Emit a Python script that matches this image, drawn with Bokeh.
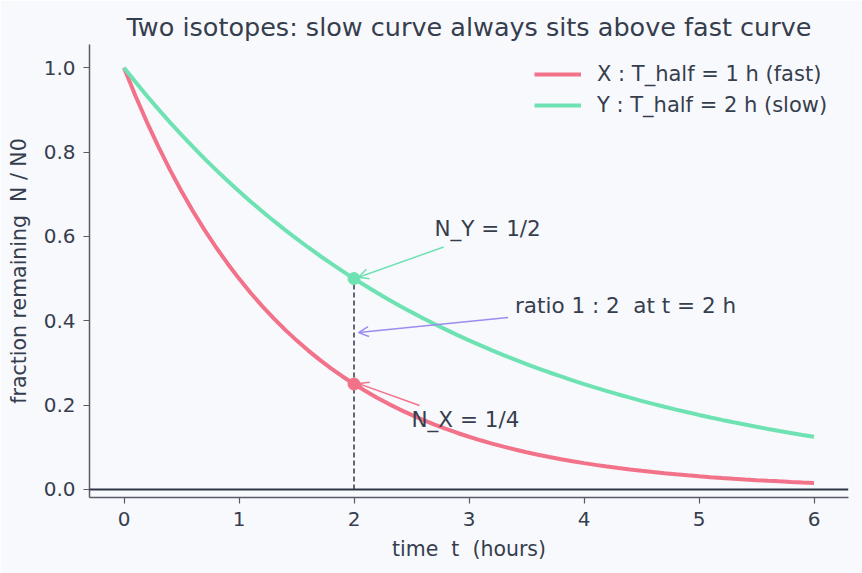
from bokeh.plotting import figure
from bokeh.models import (Range1d, FixedTicker, Span, Arrow, OpenHead, Label,
                          Legend, LegendItem, PrintfTickFormatter, ColumnDataSource)
from bokeh.embed import file_html
from bokeh.resources import INLINE

# ---- data ----
t_hours = [round(0.1 * i, 1) for i in range(61)]
frac_x_fast = [1.0, 0.93303, 0.87055, 0.81225, 0.75786, 0.70711, 0.65975, 0.61557, 0.57435, 0.53589,
               0.5, 0.46652, 0.43528, 0.40613, 0.37893, 0.35355, 0.32988, 0.30779, 0.28718, 0.26795,
               0.25, 0.23326, 0.21764, 0.20306, 0.18946, 0.17678, 0.16494, 0.15389, 0.14359, 0.13397,
               0.125, 0.11663, 0.10882, 0.10153, 0.09473, 0.08839, 0.08247, 0.07695, 0.07179, 0.06699,
               0.0625, 0.05831, 0.05441, 0.05077, 0.04737, 0.04419, 0.04123, 0.03847, 0.0359, 0.03349,
               0.03125, 0.02916, 0.0272, 0.02538, 0.02368, 0.0221, 0.02062, 0.01924, 0.01795, 0.01675,
               0.01563]
frac_y_slow = [1.0, 0.96594, 0.93303, 0.90125, 0.87055, 0.8409, 0.81225, 0.78458, 0.75786, 0.73204,
               0.70711, 0.68302, 0.65975, 0.63728, 0.61557, 0.5946, 0.57435, 0.55478, 0.53589, 0.51764,
               0.5, 0.48297, 0.46652, 0.45062, 0.43528, 0.42045, 0.40613, 0.39229, 0.37893, 0.36602,
               0.35355, 0.34151, 0.32988, 0.31864, 0.30779, 0.2973, 0.28718, 0.27739, 0.26795, 0.25882,
               0.25, 0.24148, 0.23326, 0.22531, 0.21764, 0.21022, 0.20306, 0.19615, 0.18946, 0.18301,
               0.17678, 0.17075, 0.16494, 0.15932, 0.15389, 0.14865, 0.14359, 0.1387, 0.13397, 0.12941,
               0.125]
marker_t = [2, 2]
marker_vals = [0.25, 0.5]
x_ticks = [0, 1, 2, 3, 4, 5, 6]
y_ticks = [0.0, 0.2, 0.4, 0.6, 0.8, 1.0]
label_x = "X : T_half = 1 h (fast)"
label_y = "Y : T_half = 2 h (slow)"
NB = "\u00a0"

BG = "#f8f9fc"
TXT = "#363e4e"
AX = "#5a5b68"
RED = "#f2728a"
GREEN = "#6fe2b4"
PURPLE = "#9c8cf0"
FONT = "DejaVu Sans"

p = figure(width=862, height=573, output_backend="svg", toolbar_location=None,
           x_range=Range1d(-0.3, 6.3), y_range=Range1d(-0.019, 1.055),
           min_border_left=89, min_border_right=14, min_border_top=44,
           min_border_bottom=76)
p.background_fill_color = BG
p.border_fill_color = BG
p.outline_line_color = None
p.grid.visible = False

p.title.text = "Two isotopes: slow curve always sits above fast curve"
p.title.align = "center"
p.title.text_font = FONT
p.title.text_font_size = "25.5px"
p.title.text_font_style = "normal"
p.title.text_color = TXT
p.title.offset = 0
p.title.standoff = 6

for ax in (p.xaxis[0], p.yaxis[0]):
    ax.axis_line_color = AX
    ax.axis_line_width = 1.5
    ax.major_tick_line_color = AX
    ax.major_tick_line_width = 1.2
    ax.major_tick_out = 6
    ax.major_tick_in = 0
    ax.minor_tick_line_color = None
    ax.major_label_text_font = FONT
    ax.major_label_text_font_size = "20px"
    ax.major_label_text_color = TXT
    ax.axis_label_text_font = FONT
    ax.axis_label_text_font_size = "20.5px"
    ax.axis_label_text_font_style = "normal"
    ax.axis_label_text_color = TXT

p.xaxis.ticker = FixedTicker(ticks=x_ticks)
p.yaxis.ticker = FixedTicker(ticks=y_ticks)
p.yaxis.formatter = PrintfTickFormatter(format="%.1f")
p.xaxis.axis_label = "time" + NB + NB + "t" + NB + NB + "(hours)"
p.yaxis.axis_label = "fraction remaining" + NB + NB + "N / N0"
p.xaxis.major_label_standoff = 8
p.yaxis.major_label_standoff = 8
p.xaxis.axis_label_standoff = 8
p.yaxis.axis_label_standoff = 10

p.add_layout(Span(location=0, dimension="width", line_color="#2f3646", line_width=2))

src = ColumnDataSource(dict(t=t_hours, x=frac_x_fast, y=frac_y_slow))
rx = p.line("t", "x", source=src, line_color=RED, line_width=4)
ry = p.line("t", "y", source=src, line_color=GREEN, line_width=4)

p.segment(x0=[marker_t[0]], y0=[0], x1=[marker_t[1]], y1=[marker_vals[1]],
          line_color="#2f3646", line_width=1.5, line_dash="5 3")
p.scatter([marker_t[0]], [marker_vals[0]], size=12, color=RED)
p.scatter([marker_t[1]], [marker_vals[1]], size=12, color=GREEN)

def note(text, tx, ty, ax_, ay_, hx, hy, color):
    p.add_layout(Arrow(x_start=ax_, y_start=ay_, x_end=hx, y_end=hy,
                       line_color=color, line_width=1.5,
                       end=OpenHead(size=10, line_color=color, line_width=1.5)))
    p.add_layout(Label(x=tx, y=ty, text=text, text_font=FONT, text_font_size="21.5px",
                       text_color=TXT, text_baseline="middle", text_align="left"))

note("N_Y = 1/2", 2.7, 0.618, 2.78, 0.575, 2.04, 0.503, GREEN)
note("ratio 1 : 2" + NB + NB + "at t = 2 h", 3.4, 0.436, 3.34, 0.408, 2.04, 0.372, PURPLE)
note("N_X = 1/4", 2.5, 0.166, 2.57, 0.199, 2.04, 0.251, RED)

legend = Legend(items=[LegendItem(label=label_x, renderers=[rx]),
                       LegendItem(label=label_y, renderers=[ry])],
                location="top_right")
legend.label_text_font = FONT
legend.label_text_font_size = "21px"
legend.label_text_color = TXT
legend.border_line_alpha = 0
legend.background_fill_alpha = 0
legend.glyph_width = 47
legend.glyph_height = 20
legend.label_standoff = 16
legend.label_width = 233
legend.spacing = 7
legend.padding = 6
legend.margin = 12
p.add_layout(legend)

open("out.html", "w").write(file_html(p, INLINE))
